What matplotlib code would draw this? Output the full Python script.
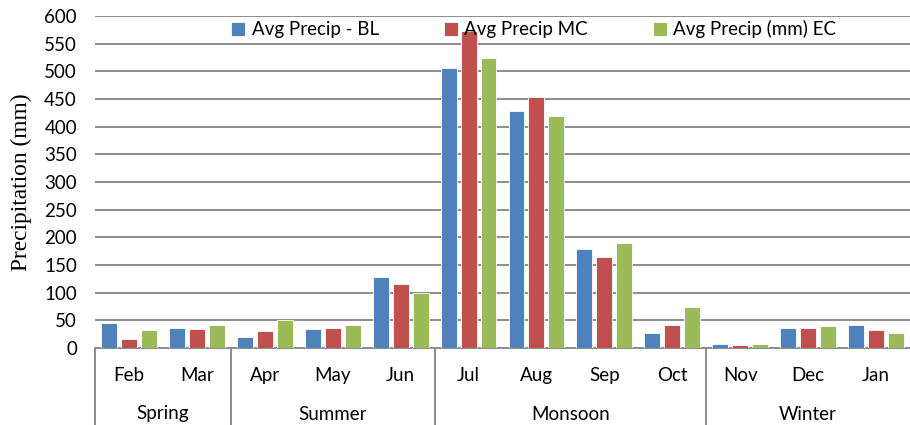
import matplotlib
matplotlib.use("Agg")
import matplotlib.pyplot as plt
import matplotlib.transforms as mtransforms
import numpy as np

months = ["Feb", "Mar", "Apr", "May", "Jun", "Jul", "Aug", "Sep", "Oct", "Nov", "Dec", "Jan"]
seasons = ["Spring", "Summer", "Monsoon", "Winter"]
season_sizes = [2, 3, 4, 3]
series_names = ["Avg Precip - BL", "Avg Precip MC", "Avg Precip (mm) EC"]
bl = [46, 37, 19, 35, 129, 506, 429, 179, 27, 7, 36, 41]
mc = [16, 35, 31, 37, 115, 572, 454, 165, 41, 5, 37, 33]
ec = [33, 42, 51, 41, 99, 524, 420, 189, 74, 7, 40, 28]
colors = ["#4F81BD", "#C0504D", "#9BBB59"]

plt.rcParams["font.family"] = ["Lato", "DejaVu Sans"]
fs = 13.5

fig = plt.figure(figsize=(9.1, 4.25), dpi=100)
ax = fig.add_axes([95/910, 77/425, 1 - 95/910, (348-16)/425])

x = np.arange(len(months))
w = 0.235
step = 0.294
for i, (vals, c, name) in enumerate(zip([bl, mc, ec], colors, series_names)):
    ax.bar(x + (i - 1) * step, vals, width=w, color=c, edgecolor="white", linewidth=0.6,
           label=name, zorder=3)

ax.set_xlim(-0.5, len(months) - 0.5)
ax.set_ylim(0, 600)
ax.set_yticks(np.arange(0, 601, 50))
ax.yaxis.grid(True, color="#8c8c8c", linewidth=1.4, zorder=0)
ax.set_axisbelow(True)
for s in ["top", "right", "left"]:
    ax.spines[s].set_visible(False)
ax.spines["bottom"].set_color("#8c8c8c")
ax.spines["bottom"].set_linewidth(1.4)
ax.tick_params(axis="y", length=0, pad=13, labelsize=fs)
ax.set_xticks(x)
ax.set_xticklabels(months)
ax.tick_params(axis="x", length=0, pad=14, labelsize=fs)

ax.set_ylabel("Precipitation (mm)", family="Liberation Serif", fontsize=16.8, labelpad=9)

trans = mtransforms.blended_transform_factory(ax.transData, ax.transAxes)
start = -0.5
ax_h_px = 348 - 16
for name, n in zip(seasons, season_sizes):
    ax.plot([start, start], [0, -77/ax_h_px], transform=trans, color="#8c8c8c",
            linewidth=1.4, clip_on=False)
    ax.text(start + n / 2, -66/ax_h_px, name, transform=trans, ha="center", va="center",
            fontsize=fs)
    start += n

leg = ax.legend(loc="upper left", bbox_to_anchor=((233 - 95) / 815 - 0.017, 1.024), ncol=3,
                frameon=False, fontsize=fs, handlelength=0.75, handleheight=0.75,
                handletextpad=0.35, columnspacing=3.45, borderaxespad=0.25)

fig.savefig("out.png", dpi=100)
